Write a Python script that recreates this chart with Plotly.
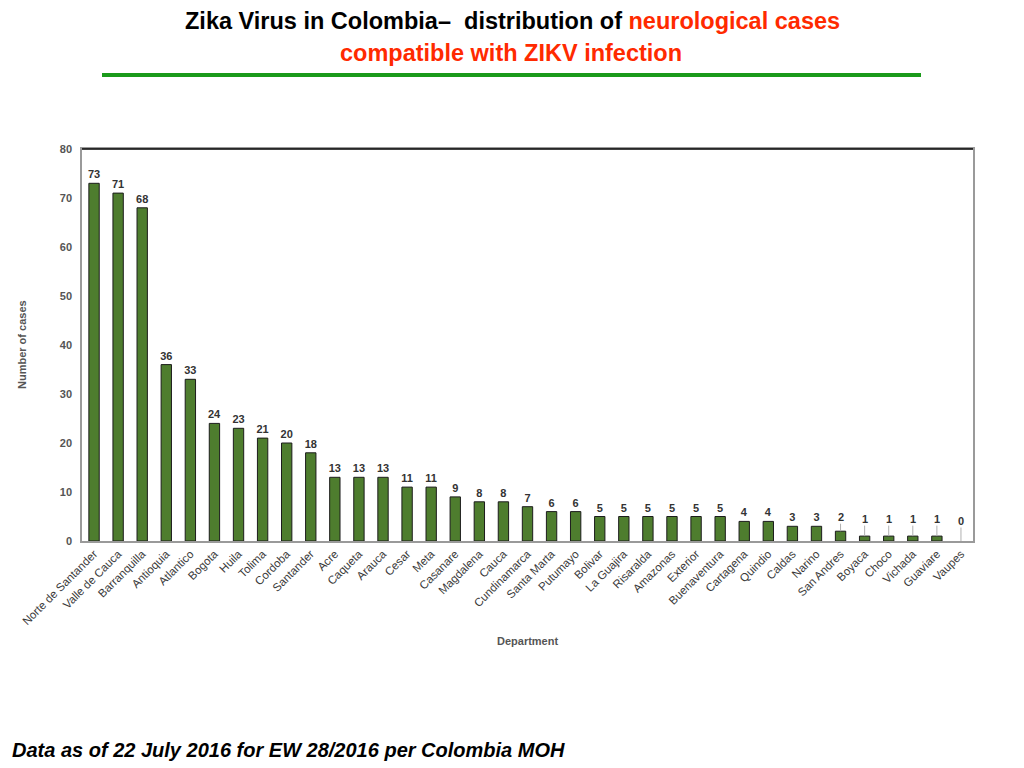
import plotly.graph_objects as go

departments = ["Norte de Santander", "Valle de Cauca", "Barranquilla", "Antioquia", "Atlantico",
               "Bogota", "Huila", "Tolima", "Cordoba", "Santander", "Acre", "Caqueta", "Arauca",
               "Cesar", "Meta", "Casanare", "Magdalena", "Cauca", "Cundinamarca", "Santa Marta",
               "Putumayo", "Bolivar", "La Guajira", "Risaralda", "Amazonas", "Exterior",
               "Buenaventura", "Cartagena", "Quindio", "Caldas", "Narino", "San Andres", "Boyaca",
               "Choco", "Vichada", "Guaviare", "Vaupes"]
cases = [73, 71, 68, 36, 33, 24, 23, 21, 20, 18, 13, 13, 13, 11, 11, 9, 8, 8, 7, 6, 6,
         5, 5, 5, 5, 5, 5, 4, 4, 3, 3, 2, 1, 1, 1, 1, 0]

LEADER_MAX = 2
bar_text = [str(v) if v > LEADER_MAX else "" for v in cases]
outline_w = [1 if v > 0 else 0 for v in cases]

font = "Liberation Sans, Arial, Helvetica, sans-serif"
label_font = dict(family=font, size=11, color="#333333", weight="bold")

fig = go.Figure(go.Bar(
    x=departments, y=cases,
    text=bar_text, textposition="outside", cliponaxis=False, constraintext="none",
    textfont=label_font,
    marker=dict(color="#4e7d2e", line=dict(color="#1c1c1c", width=outline_w)),
))

leader_offset = {2: -14, 1: -17, 0: -20}
annotations = []
for d, v in zip(departments, cases):
    if v <= LEADER_MAX:
        annotations.append(dict(
            x=d, y=v, xref="x", yref="y", text=str(v), showarrow=True,
            arrowhead=0, arrowwidth=1, arrowcolor="#b0b0b0", ax=0,
            ay=leader_offset[v], standoff=0, borderpad=0, font=label_font))

# page offset (browser body margin)
OFF = 8
W, H = 1024, 768
L, R, T, B = 82 - OFF, 51 + OFF, 149 - OFF, 227 + OFF
pw, ph = W - L - R, H - T - B
def px(x):
    return (x - OFF - L) / pw
def py(y):
    return (H - B - (y - OFF)) / ph

annotations += [
    dict(x=px(512), y=py(21), xref="paper", yref="paper", showarrow=False,
         text="Zika Virus in Colombia\u2013  distribution of <span style='color:#ff2a00'>neurological cases</span>",
         font=dict(family=font, size=23.5, color="#000000", weight="bold"), xanchor="center", yanchor="middle"),
    dict(x=px(511), y=py(53), xref="paper", yref="paper", showarrow=False,
         text="compatible with ZIKV infection",
         font=dict(family=font, size=23.5, color="#ff2a00", weight="bold"), xanchor="center", yanchor="middle"),
    dict(x=px(10), y=py(750), xref="paper", yref="paper", showarrow=False,
         text="<i>Data as of 22 July 2016 for EW 28/2016 per Colombia MOH</i>",
         font=dict(family=font, size=20, color="#000000", weight="bold"), xanchor="left", yanchor="middle"),
    dict(x=px(22), y=py(345), xref="paper", yref="paper", showarrow=False, textangle=-90,
         text="Number of cases",
         font=dict(family=font, size=11, color="#555555", weight="bold"), xanchor="center", yanchor="middle"),
    dict(x=px(527), y=py(641), xref="paper", yref="paper", showarrow=False,
         text="Department",
         font=dict(family=font, size=11, color="#555555", weight="bold"), xanchor="center", yanchor="middle"),
]

shapes = [
    dict(type="line", xref="paper", yref="paper", x0=px(102), x1=px(921), y0=py(75), y1=py(75),
         line=dict(color="#1a9a1a", width=4)),
    dict(type="line", xref="paper", yref="paper", x0=0, x1=1, y0=1, y1=1,
         line=dict(color="#000000", width=1.5)),
]

fig.update_layout(
    width=W, height=H,
    margin=dict(l=L, r=R, t=T, b=B, autoexpand=False),
    paper_bgcolor="white", plot_bgcolor="white",
    showlegend=False, bargap=0.57,
    annotations=annotations, shapes=shapes,
    font=dict(family=font),
    xaxis=dict(
        tickangle=-45, tickfont=dict(family=font, size=11.5, color="#3a3a3a"),
        showline=True, linecolor="#9a9a9a", linewidth=1.5, mirror=True,
        showgrid=False, ticks="",
    ),
    yaxis=dict(
        range=[0, 80], dtick=10, tickfont=dict(family=font, size=11, color="#555555", weight="bold"),
        showline=True, linecolor="#9a9a9a", linewidth=1.5, mirror=True,
        showgrid=False, ticks="", zeroline=False, ticklabelstandoff=6,
    ),
)

fig.write_html("out.html")
